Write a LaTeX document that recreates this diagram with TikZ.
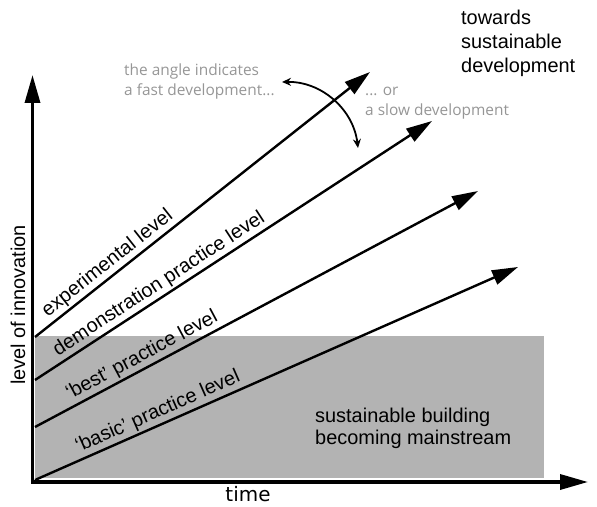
\documentclass[tikz,border=0pt]{standalone}
\usepackage{fontspec}
\setmainfont{Liberation Sans}
\newfontfamily\notefont{Open Sans}
\newfontfamily\axisfont{DejaVu Sans}
\usetikzlibrary{arrows.meta}

\definecolor{mainstream}{RGB}{179,179,179}
\definecolor{notegray}{RGB}{150,150,150}

\begin{document}
\begin{tikzpicture}[x=1bp,y=-1bp,
  axis/.style={line width=3.4bp, -{Triangle[length=28bp,width=15bp]}},
  level/.style={line width=2.4bp, -{Triangle[length=26bp,width=15bp]}},
  levellabel/.style={sloped, above, inner sep=2bp, font=\fontsize{20}{24}\selectfont},
  bigtext/.style={anchor=base west, inner sep=0, font=\fontsize{20}{24}\selectfont},
  note/.style={anchor=base west, inner sep=0, text=notegray, font=\notefont\fontsize{15.5}{20}\selectfont},
  swing/.style={line width=1.8bp, {Stealth[length=9bp,width=8bp]}-{Stealth[length=9bp,width=8bp]}},
]
\useasboundingbox (0,0) rectangle (597,507);

% mainstream zone
\fill[mainstream] (35,336) rectangle (544,478);

% axes
\coordinate (ybase) at (32.5,483.7);
\coordinate (ytip)  at (32.5,75);
\coordinate (xbase) at (30.8,482);
\coordinate (xtip)  at (588,482);
\draw[axis] (ybase) -- (ytip);
\draw[axis] (xbase) -- (xtip);

% levels of practice
\coordinate (exp0)   at (35,337);  \coordinate (exp1)   at (370,72);
\coordinate (dem0)   at (35,380);  \coordinate (dem1)   at (432,121);
\coordinate (best0)  at (35,427);  \coordinate (best1)  at (478,191);
\coordinate (basic0) at (35,480);  \coordinate (basic1) at (518,267);

\draw[level] (exp0) -- (exp1) node[levellabel, pos=0.24] {experimental level};
\draw[level] (dem0) -- (dem1) node[levellabel, pos=0.33] {demonstration practice level};
\draw[level] (best0) -- (best1) node[levellabel, pos=0.255] {‘best’ practice level};
\draw[level] (basic0) -- (basic1) node[levellabel, pos=0.265] {‘basic’ practice level};

% angle swing
\coordinate (swingA) at (282,82);
\coordinate (swingB) at (358,148);
\draw[swing] (swingA) to[bend left=42] (swingB);

% notes
\node[note] (fast1) at (124,76) {the angle indicates};
\node[note] (fast2) at (124,96) {a fast development...};
\node[note] (slow1) at (365,96) {... or};
\node[note] (slow2) at (365,116) {a slow development};

% goal
\node[bigtext] (goal1) at (461,25) {towards};
\node[bigtext] (goal2) at (461,49) {sustainable};
\node[bigtext] (goal3) at (461,73) {development};

% mainstream caption
\node[bigtext] (main1) at (315,422) {sustainable building};
\node[bigtext] (main2) at (315,444) {becoming mainstream};

% axis titles
\node[anchor=base, inner sep=0, font=\axisfont\fontsize{20}{24}\selectfont] (time) at (248,501) {time};
\node[rotate=90, anchor=base, inner sep=0, font=\fontsize{20}{24}\selectfont] (innov) at (25,305) {level of innovation};
\end{tikzpicture}
\end{document}
